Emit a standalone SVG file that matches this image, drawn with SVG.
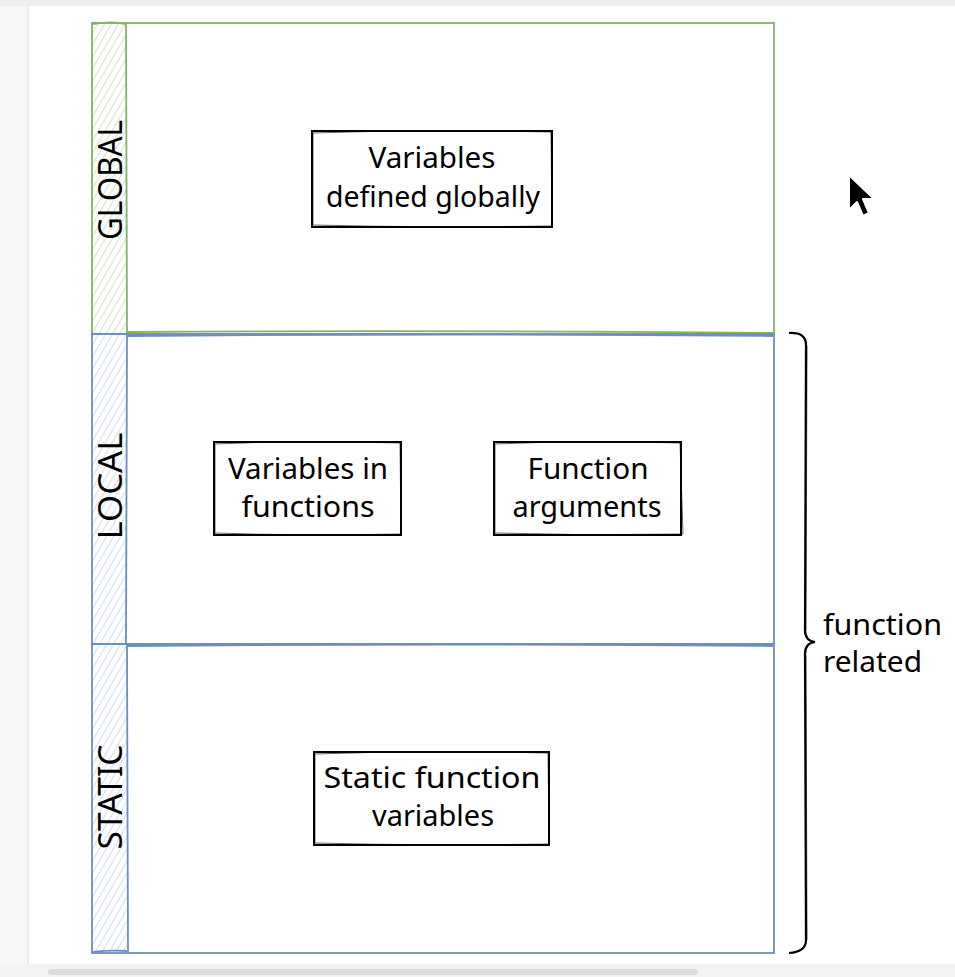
<svg xmlns="http://www.w3.org/2000/svg" width="955" height="977" viewBox="0 0 955 977">
<style>
.t{font-family:"Noto Sans","Liberation Sans",sans-serif;font-size:29px;fill:#000;}
.lane{font-family:"Noto Sans","Liberation Sans",sans-serif;font-size:32px;fill:#000;}
.box{fill:#fff;stroke:#000;stroke-width:2;}
.box2{fill:none;stroke:#000;stroke-width:1;opacity:0.6;}
.g{stroke:#82b366;stroke-width:1.8;fill:none;}
.b{stroke:#6c8ebf;stroke-width:1.8;fill:none;}
</style>
<defs>
<pattern id="hg" width="6" height="6" patternUnits="userSpaceOnUse" patternTransform="rotate(30)">
<line x1="0" y1="0" x2="0" y2="6" stroke="#a9d09c" stroke-width="1.1"/>
</pattern>
<pattern id="hb" width="6" height="6" patternUnits="userSpaceOnUse" patternTransform="rotate(30)">
<line x1="0" y1="0" x2="0" y2="6" stroke="#a9c2e4" stroke-width="1.1"/>
</pattern>
</defs>
<rect x="0" y="0" width="955" height="977" fill="#fff"/>
<rect x="0" y="0" width="28" height="977" fill="#f7f7f7"/>
<line x1="28" y1="0" x2="28" y2="977" stroke="#e6e6e6" stroke-width="1.5"/>
<rect x="0" y="0" width="955" height="6" fill="#eceeef"/>
<rect x="0" y="964" width="955" height="13" fill="#f3f3f3"/>
<rect x="48" y="969" width="650" height="6" rx="3" fill="#dcdcdc"/>

<g id="lane-global">
<rect x="92" y="23" width="35" height="311" fill="url(#hg)"/>
<rect x="92" y="23" width="682" height="311" class="g"/>
<path d="M 93 24 Q 110 21 126 24 L 127 333" class="g"/>
<path d="M 127 332 Q 450 330 773 333" class="g" stroke-width="1.2"/>
<text class="lane" transform="translate(122,180) rotate(-90)" text-anchor="middle" textLength="120" lengthAdjust="spacingAndGlyphs">GLOBAL</text>
</g>
<g id="lane-local">
<rect x="92" y="334" width="35" height="310" fill="url(#hb)"/>
<rect x="92" y="334" width="682" height="310" class="b"/>
<path d="M 127 335 L 126 643 M 127 336 Q 450 333 773 336" class="b" stroke-width="1.2"/>
<text class="lane" transform="translate(122,486) rotate(-90)" text-anchor="middle" textLength="107" lengthAdjust="spacingAndGlyphs">LOCAL</text>
</g>
<g id="lane-static">
<rect x="92" y="644" width="35" height="309" fill="url(#hb)"/>
<rect x="92" y="644" width="682" height="309" class="b"/>
<path d="M 127 645 L 128 952 M 127 646 Q 450 643 773 646 M 93 952 Q 110 950 127 951" class="b" stroke-width="1.2"/>
<text class="lane" transform="translate(122,797) rotate(-90)" text-anchor="middle" textLength="105" lengthAdjust="spacingAndGlyphs">STATIC</text>
</g>

<g id="node-global-vars">
<rect x="312" y="131" width="240" height="96" class="box"/>
<path d="M 313 133 Q 430 129 551 132 L 552 226 Q 430 228 313 225 Z" class="box2"/>
<text class="t" x="432" y="168" text-anchor="middle" textLength="127" lengthAdjust="spacingAndGlyphs">Variables</text>
<text class="t" x="433" y="207" text-anchor="middle" textLength="214" lengthAdjust="spacingAndGlyphs">defined globally</text>
</g>
<g id="node-vars-in-functions">
<rect x="214" y="442" width="187" height="93" class="box"/>
<path d="M 215 444 Q 300 440 400 443 L 401 534 Q 300 536 215 533 Z" class="box2"/>
<text class="t" x="308" y="479" text-anchor="middle" textLength="160" lengthAdjust="spacingAndGlyphs">Variables in</text>
<text class="t" x="308" y="517" text-anchor="middle" textLength="133" lengthAdjust="spacingAndGlyphs">functions</text>
</g>
<g id="node-function-arguments">
<rect x="494" y="442" width="187" height="93" class="box"/>
<path d="M 495 444 Q 590 440 680 443 L 683 534 Q 590 536 495 533 Z" class="box2"/>
<text class="t" x="588" y="479" text-anchor="middle" textLength="121" lengthAdjust="spacingAndGlyphs">Function</text>
<text class="t" x="587" y="517" text-anchor="middle" textLength="149" lengthAdjust="spacingAndGlyphs">arguments</text>
</g>
<g id="node-static-vars">
<rect x="314" y="752" width="235" height="93" class="box"/>
<path d="M 315 754 Q 430 750 548 753 L 549 844 Q 430 846 315 843 Z" class="box2"/>
<text class="t" x="432" y="788" text-anchor="middle" textLength="217" lengthAdjust="spacingAndGlyphs">Static function</text>
<text class="t" x="433" y="826" text-anchor="middle" textLength="122" lengthAdjust="spacingAndGlyphs">variables</text>
</g>

<g id="brace">
<path d="M 789 333 Q 806 332 806 345 L 805 630 Q 805 641 815 642 Q 805 643 805 654 L 806 940 Q 806 952 789 953" fill="none" stroke="#000" stroke-width="2.2"/>
<path d="M 807 346 L 806 630 M 806 655 L 807 940" fill="none" stroke="#000" stroke-width="1" opacity="0.6"/>
<text class="t" x="823" y="635" textLength="119" lengthAdjust="spacingAndGlyphs">function</text>
<text class="t" x="823" y="672" textLength="99" lengthAdjust="spacingAndGlyphs">related</text>
</g>

<g id="cursor">
<path d="M 849 175 L 849 210 L 857 202 L 863 216 L 869 213 L 863 199 L 874 199 Z" fill="#000" stroke="#fff" stroke-width="2" stroke-linejoin="round"/>
</g>
</svg>
